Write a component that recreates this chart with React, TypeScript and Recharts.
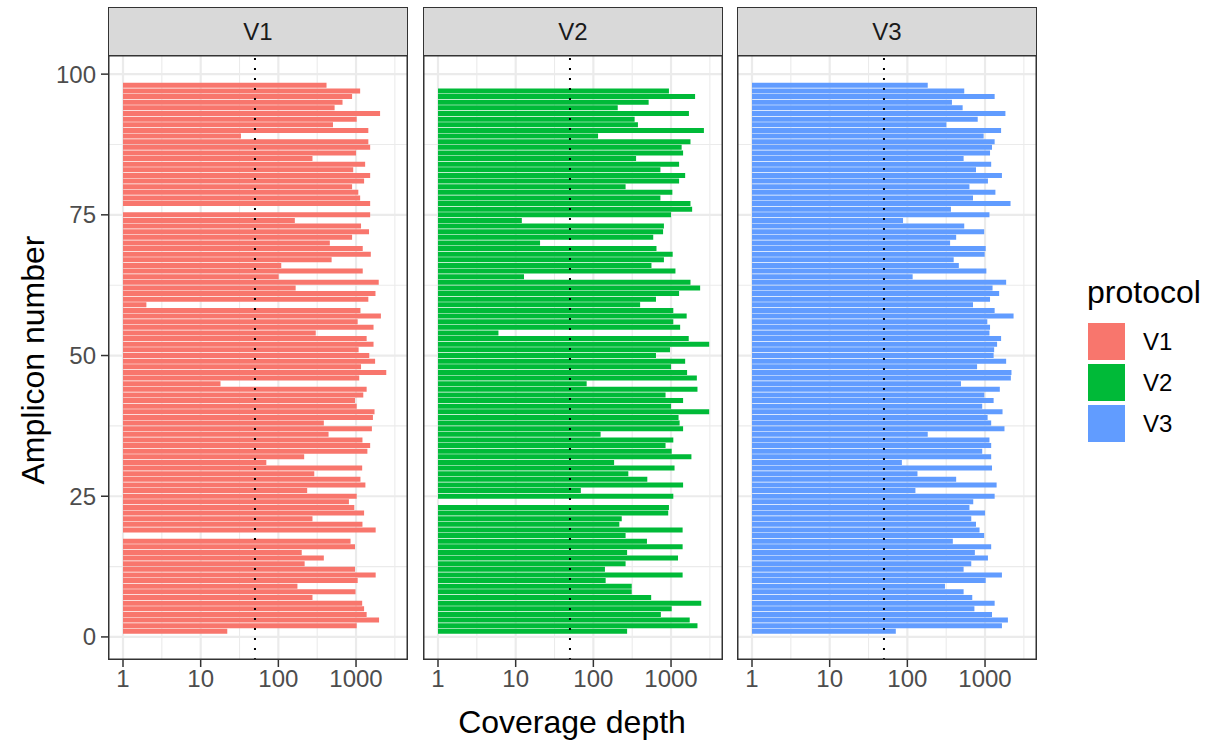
import React from 'react';
import { BarChart, Bar, XAxis, YAxis, CartesianGrid, ReferenceLine } from 'recharts';

// coverage depth per amplicon, amplicon 1 first; null = no bar drawn
const v1Depth = [
  22, 1020, 1980, 1370, 1270, 1200, 275, 985, 176, 1050,
  1790, 970, 218, 385, 200, 970, 850, null, 1790, 1210,
  275, 1270, 950, 810, 1020, 235, 1320, 1140, 290, 1200,
  70, 215, 1400, 1520, 1210, 443, 1600, 385, 1650, 1730,
  1020, 970, 1240, 1370, 18, 1100, 2450, 1160, 1760, 1480,
  1080, 1680, 1370, 303, 1680, 1050, 2090, 1140, 2, 1440,
  1780, 167, 1960, 101, 1220, 109, 485, 1550, 1220, 460,
  890, 1470, 1160, 163, 1520, null, 1520, 1130, 1070, 890,
  1270, 1520, 920, 1310, 275, 1000, 1520, 1440, 33, 1440,
  505, 1020, 2040, 530, 670, 890, 1130, 417,
];

const v2Depth = [
  272, 2190, 1740, 740, 1020, 2450, 555, 312, 312, 144,
  1410, 141, 260, 1230, 272, 1410, 490, 260, 1410, 216,
  232, 920, 940, null, 1070, 69, 1430, 495, 282, 1110,
  185, 1830, 1020, 850, 1070, 124, 1430, 1290, 1250, 3100,
  1000, 1430, 850, 2190, 82, 2150, 1610, 1000, 1520, 640,
  970, 3100, 1690, 6, 1310, 1070, 1590, 1070, 400, 640,
  1270, 2370, 1780, 12.8, 1140, 560, 810, 1050, 650, 20.6,
  590, 790, 810, 12, 1000, 1870, 1780, 730, 1040, 260,
  1270, 1520, 730, 1270, 355, 1430, 1370, 1780, 115, 2650,
  375, 340, 1700, 206, 515, 2040, 940, null,
];

const v3Depth = [
  71, 1650, 1970, 1230, 730, 1330, 685, 530, 305, 1020,
  1650, 530, 665, 1090, 740, 1200, 385, 975, 850, 765,
  665, 1000, 630, 705, 1330, 127, 1410, 425, 135, 1230,
  85, 1200, 920, 1200, 1140, 183, 1780, 1200, 1080, 1680,
  920, 1290, 980, 1550, 490, 2150, 2190, 790, 1870, 1290,
  1310, 1430, 1610, 1140, 1160, 1070, 2330, 1330, 700, 1160,
  1520, 1250, 1870, 117, 1040, 460, 395, 990, 1020, 355,
  425, 975, 540, 88, 1140, 364, 2130, 700, 1360, 630,
  1090, 1650, 765, 1200, 530, 1160, 1230, 1330, 960, 1610,
  318, 805, 1830, 515, 375, 1330, 540, 183,
];

const protocols = ['V1', 'V2', 'V3'];
const colors = ['#F8766D', '#00BA38', '#619CFF'];
const xTicks = [1, 10, 100, 1000];
const xMinor = [3.162, 31.62, 316.2, 3162];
const yTicks = [0, 25, 50, 75, 100];
const yMinor = [12.5, 37.5, 62.5, 87.5];
const threshold = 50;

const FONT = '"Liberation Sans", Arial, Helvetica, sans-serif';
const PANEL_TOP = 55;
const PANEL_W = 300;
const PANEL_H = 605;
const PANEL_LEFT = [108, 423, 737];
const STRIP_TOP = 7;
const Y_AXIS_W = 70;
const X_AXIS_H = 50;
const X_DOMAIN = [0.641, 4667];
const Y_DOMAIN = [-4.1, 103.4];
const TEXT_SIZE = 24;
const TITLE_SIZE = 32;

const tickStyle = { fill: '#4D4D4D', fontSize: TEXT_SIZE, fontFamily: FONT };

const Panel = ({ index }: { index: number }) => {
  const depths = [v1Depth, v2Depth, v3Depth][index];
  const data = depths
    .map((d, i) => ({ amplicon: i + 1, depth: d, span: [1, d] }))
    .filter((r) => r.depth != null);
  const showY = index === 0;
  const yw = showY ? Y_AXIS_W : 0;
  const px = PANEL_LEFT[index];

  return (
    <>
      <div
        style={{
          position: 'absolute',
          left: px,
          top: STRIP_TOP,
          width: PANEL_W,
          height: PANEL_TOP - STRIP_TOP,
          boxSizing: 'border-box',
          background: '#D9D9D9',
          border: '1.5px solid #333',
          borderBottom: 'none',
          display: 'flex',
          alignItems: 'center',
          justifyContent: 'center',
          fontSize: TEXT_SIZE,
          color: '#1A1A1A',
        }}
      >
        {protocols[index]}
      </div>
      <div style={{ position: 'absolute', left: px - yw, top: PANEL_TOP }}>
        <BarChart
          width={PANEL_W + yw}
          height={PANEL_H + X_AXIS_H}
          data={data}
          layout="vertical"
          margin={{ top: 0, right: 0, bottom: 0, left: 0 }}
          barCategoryGap="5%"
        >
          <CartesianGrid verticalValues={xMinor} horizontalValues={yMinor} stroke="#EBEBEB" strokeWidth={1.1} />
          <CartesianGrid verticalValues={xTicks} horizontalValues={yTicks} stroke="#EBEBEB" strokeWidth={2.2} />
          <XAxis
            type="number"
            scale="log"
            domain={X_DOMAIN}
            allowDataOverflow
            ticks={xTicks}
            interval={0}
            height={X_AXIS_H}
            axisLine={false}
            tickLine={{ stroke: '#333', strokeWidth: 1.5 }}
            tickSize={7}
            tickMargin={3}
            tick={tickStyle}
          />
          <YAxis
            type="number"
            dataKey="amplicon"
            domain={Y_DOMAIN}
            allowDataOverflow
            ticks={yTicks}
            interval={0}
            reversed
            hide={!showY}
            width={Y_AXIS_W}
            axisLine={false}
            tickLine={{ stroke: '#333', strokeWidth: 1.5 }}
            tickSize={7}
            tickMargin={5}
            tick={tickStyle}
          />
          <Bar dataKey="span" fill={colors[index]} isAnimationActive={false} />
          <ReferenceLine x={threshold} stroke="#000" strokeWidth={2} strokeDasharray="2 8" />
        </BarChart>
      </div>
      <svg
        width={PANEL_W}
        height={PANEL_H}
        style={{ position: 'absolute', left: px, top: PANEL_TOP, pointerEvents: 'none' }}
      >
        <rect x={0.75} y={0.75} width={PANEL_W - 1.5} height={PANEL_H - 1.5} fill="none" stroke="#333" strokeWidth={1.5} />
      </svg>
    </>
  );
};

export default function App() {
  return (
    <div
      style={{
        position: 'absolute',
        left: 0,
        top: 0,
        width: 1210,
        height: 742,
        background: '#fff',
        fontFamily: FONT,
      }}
    >
      {protocols.map((p, i) => (
        <Panel key={p} index={i} />
      ))}

      <div
        style={{
          position: 'absolute',
          left: 33 - 200,
          top: 360 - 20,
          width: 400,
          height: 40,
          textAlign: 'center',
          fontSize: TITLE_SIZE,
          lineHeight: '40px',
          color: '#000',
          transform: 'rotate(-90deg)',
        }}
      >
        Amplicon number
      </div>
      <div
        style={{
          position: 'absolute',
          left: 572 - 200,
          top: 702,
          width: 400,
          textAlign: 'center',
          fontSize: TITLE_SIZE,
          lineHeight: '40px',
          color: '#000',
        }}
      >
        Coverage depth
      </div>

      <div style={{ position: 'absolute', left: 1087, top: 272, fontSize: TITLE_SIZE, lineHeight: '40px', color: '#000' }}>
        protocol
      </div>
      {protocols.map((p, i) => (
        <React.Fragment key={p}>
          <div
            style={{
              position: 'absolute',
              left: 1088,
              top: 323 + i * 41,
              width: 37,
              height: 37,
              background: colors[i],
            }}
          />
          <div
            style={{
              position: 'absolute',
              left: 1143,
              top: 323 + i * 41,
              height: 37,
              lineHeight: '37px',
              fontSize: TEXT_SIZE,
              color: '#000',
            }}
          >
            {p}
          </div>
        </React.Fragment>
      ))}
    </div>
  );
}
